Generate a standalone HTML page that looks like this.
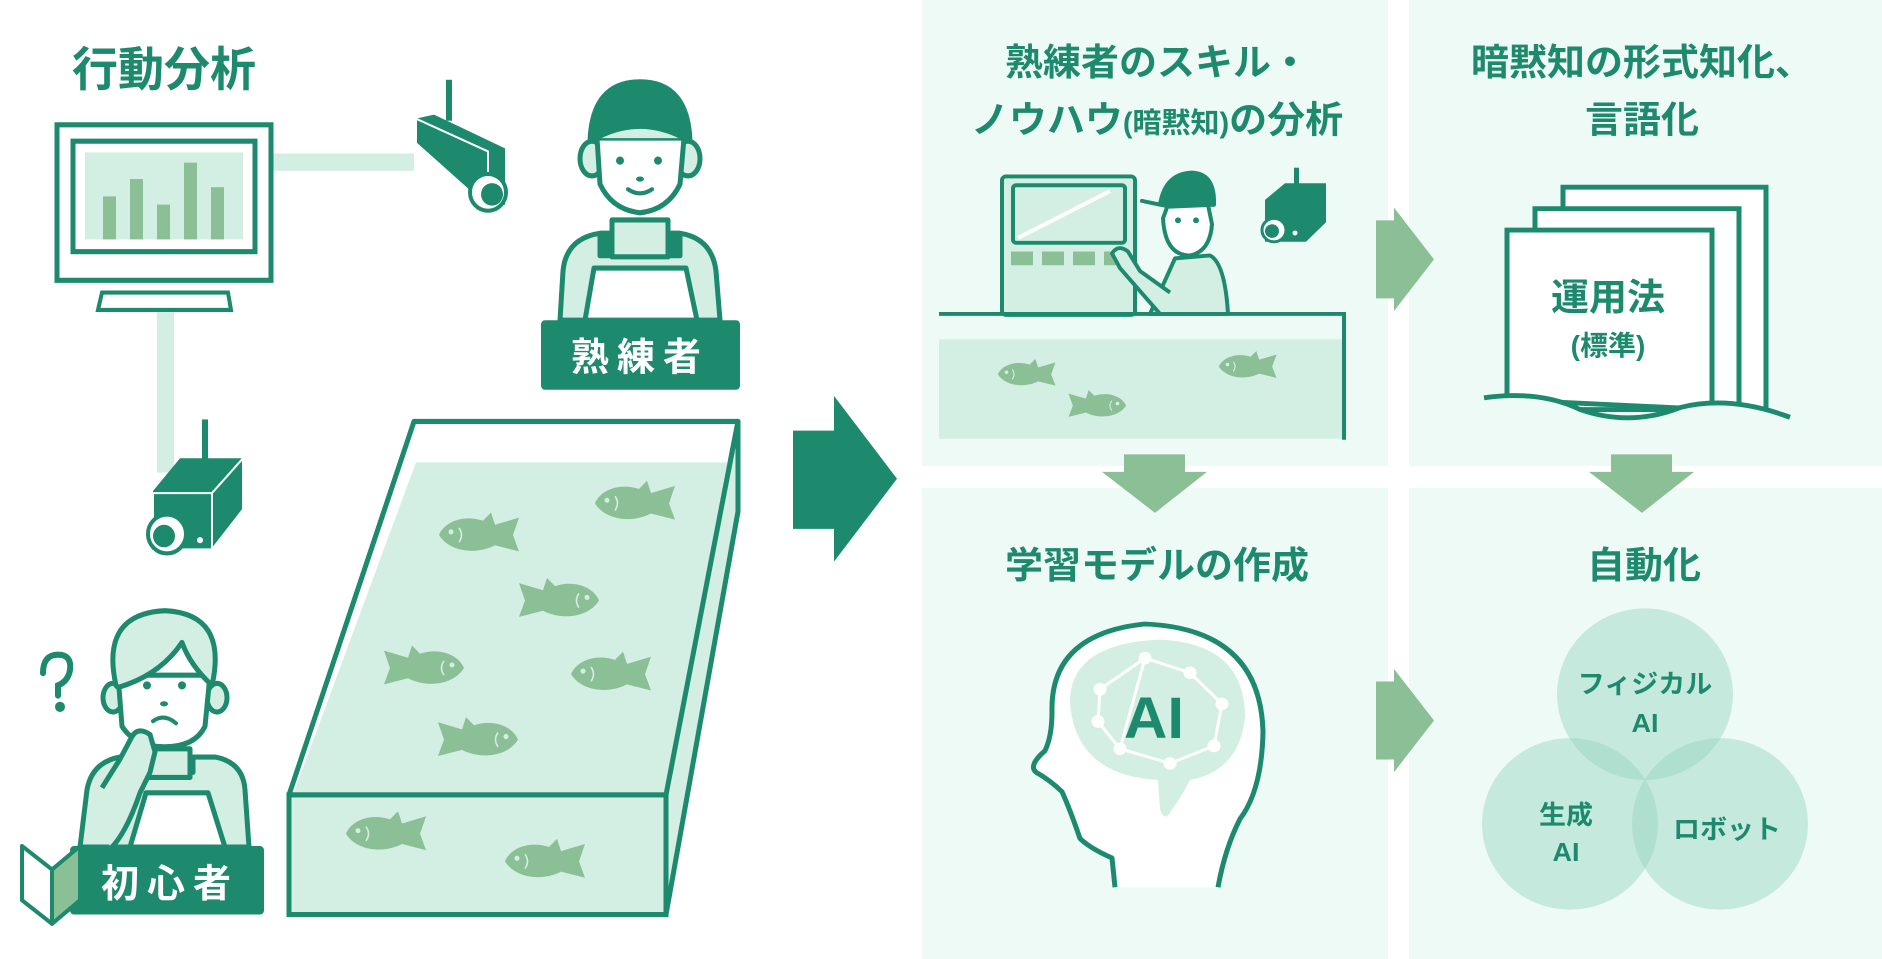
<!DOCTYPE html>
<html><head><meta charset="utf-8">
<style>
html,body{margin:0;padding:0;background:#fff;}
svg{display:block;}
text{font-family:"Liberation Sans","Noto Sans CJK JP",sans-serif;font-weight:bold;}
</style></head>
<body>
<svg width="1882" height="959" viewBox="0 0 1882 959" xmlns="http://www.w3.org/2000/svg">
<defs>
  <g id="fishL">
    <path d="M4,0 C10,-14 30,-20 48,-14 L56,-22 L60,-10 L84,-17 L78,0 L84,16 L60,10 C40,20 14,16 4,0Z" fill="#8bbf95"/>
    <circle cx="16" cy="-3" r="2.5" fill="#d3eee3"/>
    <path d="M24,-7 Q29,0 24,7" stroke="#d3eee3" stroke-width="1.6" fill="none"/>
  </g>
</defs>

<!-- right panels -->
<rect x="922" y="0" width="466" height="466" fill="#eefaf6"/>
<rect x="1409" y="0" width="473" height="466" fill="#eefaf6"/>
<rect x="922" y="488" width="466" height="471" fill="#eefaf6"/>
<rect x="1409" y="488" width="473" height="471" fill="#eefaf6"/>

<!-- ===== LEFT ===== -->
<g transform="scale(1,1.023)">
<text x="164" y="84" font-size="46" fill="#1d8a6e" text-anchor="middle">行動分析</text>

<rect x="273" y="150" width="141" height="17" fill="#d3eee3"/>
<rect x="157" y="304" width="17" height="158" fill="#d3eee3"/>

<rect x="57" y="122" width="214" height="152" fill="#fff" stroke="#1d8a6e" stroke-width="5"/>
<rect x="73" y="138" width="182" height="108" fill="#fff" stroke="#1d8a6e" stroke-width="5"/>
<rect x="85" y="149" width="158" height="85" fill="#d3eee3"/>
<g fill="#8bbf95">
<rect x="103" y="192" width="13" height="42"/>
<rect x="130" y="175" width="13" height="59"/>
<rect x="157" y="200" width="13" height="34"/>
<rect x="184" y="159" width="13" height="75"/>
<rect x="211" y="183" width="13" height="51"/>
</g>
<polygon points="102,286 228,286 231,303 98,303" fill="#fff" stroke="#1d8a6e" stroke-width="4"/>

<!-- camera top -->
<g>
<rect x="446" y="78" width="6" height="40" fill="#1d8a6e"/>
<polygon points="416,116 434,112 505,145 505,200 490,205 419,140" fill="#1d8a6e"/>
<polygon points="416,116 488,148 488,203 416,140" fill="#1d8a6e" stroke="#fff" stroke-width="2"/>
<circle cx="488" cy="188" r="18" fill="#fff" stroke="#1d8a6e" stroke-width="4"/>
<circle cx="492" cy="190" r="11" fill="#1d8a6e"/>
<circle cx="458" cy="194" r="3" fill="#fff"/>
</g>
<!-- camera bottom -->
<g>
<rect x="202" y="410" width="6" height="40" fill="#1d8a6e"/>
<polygon points="153,480 180,448 243,448 243,498 212,537 153,537" fill="#1d8a6e"/>
<polygon points="153,482 212,482 212,537 153,537" fill="#1d8a6e" stroke="#fff" stroke-width="2"/>
<polygon points="212,482 243,448 243,498 212,537" fill="#1d8a6e" stroke="#fff" stroke-width="2"/>
<circle cx="167" cy="522" r="19" fill="#fff" stroke="#1d8a6e" stroke-width="4"/>
<circle cx="164" cy="524" r="11" fill="#1d8a6e"/>
<circle cx="200" cy="528" r="3" fill="#fff"/>
</g>

<!-- expert person -->
<g stroke="#1d8a6e" stroke-width="5" stroke-linejoin="round">
<path d="M560,313 L563,265 Q566,233 600,228 L680,228 Q712,233 716,265 L720,313Z" fill="#d3eee3"/>
<path d="M600,228 L600,250 L680,250 L680,228" fill="#1d8a6e"/>
<rect x="612" y="215" width="56" height="36" fill="#d3eee3"/>
<path d="M585,313 L594,262 L686,262 L697,313Z" fill="#fff"/>
<ellipse cx="592" cy="155" rx="12" ry="17" fill="#d3eee3"/>
<ellipse cx="688" cy="155" rx="12" ry="17" fill="#d3eee3"/>
<path d="M597,135 L600,180 Q612,205 640,208 Q668,205 680,180 L684,135Z" fill="#fff"/>
<path d="M590,138 Q592,80 640,80 Q688,80 690,138 Q640,118 590,138Z" fill="#1d8a6e"/>
<path d="M596,135 Q640,112 684,135" fill="#d3eee3"/>
</g>
<g fill="#1d8a6e">
<circle cx="620" cy="157" r="4"/><circle cx="658" cy="157" r="4"/>
<ellipse cx="640" cy="175" rx="4" ry="2.5"/>
</g>
<path d="M628,185 Q640,193 652,185" stroke="#1d8a6e" stroke-width="4" fill="none" stroke-linecap="round"/>
<rect x="541" y="313" width="199" height="68" rx="4" fill="#1d8a6e"/>
<text x="640" y="362" font-size="38" fill="#fff" text-anchor="middle" letter-spacing="8">熟練者</text>

<!-- tank -->
<polygon points="414,412 738,412 666,777 289,777" fill="#fff" stroke="#1d8a6e" stroke-width="5" stroke-linejoin="round"/>
<polygon points="416,452 728,452 666,777 293,777" fill="#d3eee3"/>
<polygon points="738,412 738,500 666,894 666,777" fill="#d3eee3" stroke="#1d8a6e" stroke-width="5" stroke-linejoin="round"/>
<rect x="289" y="777" width="377" height="117" fill="#d3eee3" stroke="#1d8a6e" stroke-width="5"/>
<use href="#fishL" transform="translate(591,492)"/>
<use href="#fishL" transform="translate(435,523)"/>
<use href="#fishL" transform="translate(603,587) scale(-1,1)"/>
<use href="#fishL" transform="translate(468,653) scale(-1,1)"/>
<use href="#fishL" transform="translate(567,659)"/>
<use href="#fishL" transform="translate(522,723) scale(-1,1)"/>
<use href="#fishL" transform="translate(342,815)"/>
<use href="#fishL" transform="translate(501,842)"/>

<!-- beginner person -->
<g stroke="#1d8a6e" stroke-width="5" stroke-linejoin="round">
<path d="M80,828 L87,772 Q92,745 120,740 L215,740 Q243,745 245,772 L249,828Z" fill="#d3eee3"/>
<path d="M145,740 L145,755 L193,755 L193,740" fill="#1d8a6e"/>
<rect x="148" y="732" width="42" height="28" fill="#d3eee3"/>
<path d="M130,828 L146,775 L208,775 L225,828Z" fill="#fff"/>
<ellipse cx="113" cy="682" rx="10" ry="14" fill="#d3eee3"/>
<ellipse cx="217" cy="682" rx="10" ry="14" fill="#d3eee3"/>
<path d="M118,660 L122,710 Q135,730 165,730 Q195,730 205,710 L210,660Z" fill="#fff"/>
<path d="M116,670 Q100,600 165,597 Q228,600 212,670 Q190,650 182,628 Q160,660 118,672Z" fill="#d3eee3"/>
<path d="M102,770 L120,742 L132,720 Q138,710 150,718 L155,735 L150,755 L140,775 Q126,815 110,830" fill="#d3eee3"/>
</g>
<g fill="#1d8a6e">
<circle cx="147" cy="670" r="4"/><circle cx="182" cy="670" r="4"/>
<ellipse cx="164" cy="688" rx="4" ry="2.5"/>
</g>
<path d="M153,705 Q164,697 176,707" stroke="#1d8a6e" stroke-width="4" fill="none" stroke-linecap="round"/>
<path d="M43,658 Q43,640 58,640 Q72,640 70,655 Q68,666 58,670 L58,680" stroke="#1d8a6e" stroke-width="6" fill="none" stroke-linecap="round"/>
<circle cx="60" cy="691" r="5" fill="#1d8a6e"/>
<rect x="70" y="827" width="194" height="67" rx="4" fill="#1d8a6e"/>
<text x="170" y="877" font-size="38" fill="#fff" text-anchor="middle" letter-spacing="8">初心者</text>
<polygon points="22,827 52,850 52,903 22,880" fill="#fff" stroke="#1d8a6e" stroke-width="4" stroke-linejoin="round"/>
<polygon points="52,850 80,827 80,880 52,903" fill="#8bbf95" stroke="#1d8a6e" stroke-width="4" stroke-linejoin="round"/>

<polygon points="793,421 834,421 834,387 897,468 834,549 834,517 793,517" fill="#1d8a6e"/>
</g>

<!-- ===== RIGHT ===== -->
<g transform="scale(1,0.975)">
<text x="1157" y="77" font-size="38" fill="#1d8a6e" text-anchor="middle">熟練者のスキル・</text>
<text x="1157" y="136" font-size="38" fill="#1d8a6e" text-anchor="middle">ノウハウ<tspan font-size="29">(暗黙知)</tspan>の分析</text>

<rect x="1002" y="181" width="133" height="142" rx="4" fill="#d3eee3" stroke="#1d8a6e" stroke-width="4"/>
<rect x="1013" y="190" width="112" height="59" rx="3" fill="#d3eee3" stroke="#1d8a6e" stroke-width="4"/>
<line x1="1018" y1="244" x2="1110" y2="196" stroke="#fff" stroke-width="4"/>
<g fill="#8bbf95">
<rect x="1011" y="258" width="22" height="14"/><rect x="1042" y="258" width="22" height="14"/><rect x="1073" y="258" width="22" height="14"/><rect x="1104" y="258" width="22" height="14"/>
</g>
<g stroke="#1d8a6e" stroke-width="4" stroke-linejoin="round">
<path d="M1150,322 L1175,265 L1210,262 Q1225,270 1228,322Z" fill="#d3eee3"/>
<path d="M1163,224 Q1165,262 1190,262 Q1210,258 1212,230 L1208,210 L1168,210Z" fill="#fff"/>
<path d="M1160,210 Q1165,178 1192,177 Q1215,178 1214,210 L1170,212 L1142,206Z" fill="#1d8a6e"/>
<path d="M1160,322 L1120,275 L1112,260 Q1118,250 1128,258 L1140,278 L1170,300" fill="#d3eee3"/>
</g>
<g fill="#1d8a6e"><circle cx="1178" cy="226" r="3"/><circle cx="1196" cy="226" r="3"/></g>
<rect x="1294" y="172" width="5" height="20" fill="#1d8a6e"/>
<polygon points="1265,205 1285,188 1326,188 1326,228 1306,248 1265,248" fill="#1d8a6e"/>
<circle cx="1274" cy="236" r="12" fill="#fff" stroke="#1d8a6e" stroke-width="3"/>
<circle cx="1272" cy="237" r="7" fill="#1d8a6e"/>
<circle cx="1295" cy="239" r="2.5" fill="#fff"/>
<rect x="939" y="348" width="403" height="102" fill="#d3eee3"/>
<polyline points="939,322 1344,322 1344,451" fill="none" stroke="#1d8a6e" stroke-width="4"/>
<use href="#fishL" transform="translate(995,384) scale(0.72)"/>
<use href="#fishL" transform="translate(1129,416) scale(-0.72,0.72)"/>
<use href="#fishL" transform="translate(1216,376) scale(0.72)"/>

<text x="1642" y="77" font-size="38" fill="#1d8a6e" text-anchor="middle">暗黙知の形式知化、</text>
<text x="1642" y="136" font-size="38" fill="#1d8a6e" text-anchor="middle">言語化</text>

<g fill="#fff" stroke="#1d8a6e" stroke-width="5">
<path d="M1563,420 L1563,192 L1766,192 L1766,420Z"/>
<path d="M1535,420 L1535,214 L1739,214 L1739,420Z"/>
<path d="M1507,410 L1507,236 L1712,236 L1712,420Z"/>
</g>
<path d="M1490,408 Q1540,400 1580,420 Q1630,440 1680,420 Q1730,405 1790,428 L1790,440 L1490,440Z" fill="#eefaf6"/>
<path d="M1484,408 Q1540,400 1580,420 Q1630,438 1680,418 Q1730,405 1790,428" fill="none" stroke="#1d8a6e" stroke-width="5"/>
<text x="1608" y="318" font-size="38" fill="#1d8a6e" text-anchor="middle">運用法</text>
<text x="1608" y="364" font-size="28" fill="#1d8a6e" text-anchor="middle">(標準)</text>

<polygon points="1376,226 1394,226 1394,213 1434,266 1394,319 1394,306 1376,306" fill="#8bbf95"/>
<polygon points="1376,699 1394,699 1394,686 1434,739 1394,792 1394,779 1376,779" fill="#8bbf95"/>
<polygon points="1124,466 1185,466 1185,484 1207,484 1155,526 1102,484 1124,484" fill="#8bbf95"/>
<polygon points="1611,466 1672,466 1672,484 1694,484 1642,526 1589,484 1611,484" fill="#8bbf95"/>

<text x="1157" y="593" font-size="38" fill="#1d8a6e" text-anchor="middle">学習モデルの作成</text>
<text x="1644" y="593" font-size="38" fill="#1d8a6e" text-anchor="middle">自動化</text>

<path d="M1115,910 L1112,880 Q1090,870 1080,860 Q1070,830 1062,812 Q1050,800 1036,792 Q1028,785 1045,770 Q1052,755 1052,730 Q1050,650 1145,640 Q1260,645 1263,750 Q1262,810 1240,840 Q1225,870 1218,910" fill="#fff" stroke="#1d8a6e" stroke-width="5" stroke-linejoin="round"/>
<path d="M1070,720 Q1070,660 1160,656 Q1245,660 1245,735 Q1240,790 1190,800 Q1180,820 1172,830 Q1165,845 1160,830 L1158,800 Q1075,795 1070,720Z" fill="#d3eee3"/>
<g stroke="#fff" stroke-width="3" fill="#fff">
<polyline points="1100,707 1145,675 1190,690 1222,722 1214,765 1170,783 1120,768 1098,740 1100,707" fill="none"/>
<polyline points="1145,675 1120,768 M1145,675 1170,783 M1190,690 1170,783 M1100,707 1170,783" fill="none"/>
<circle cx="1100" cy="707" r="5"/><circle cx="1145" cy="675" r="5"/><circle cx="1190" cy="690" r="5"/><circle cx="1222" cy="722" r="5"/><circle cx="1214" cy="765" r="5"/><circle cx="1170" cy="783" r="5"/><circle cx="1120" cy="768" r="5"/><circle cx="1098" cy="740" r="5"/>
</g>
<text x="1154" y="757" font-size="60" fill="#1d8a6e" text-anchor="middle">AI</text>

<g fill="rgba(142,210,185,0.42)">
<circle cx="1645" cy="712" r="88"/>
<circle cx="1570" cy="845" r="88"/>
<circle cx="1720" cy="845" r="88"/>
</g>
<g font-size="27" fill="#1d8a6e" text-anchor="middle">
<text x="1645" y="711">フィジカル</text>
<text x="1645" y="751">AI</text>
<text x="1566" y="845">生成</text>
<text x="1566" y="883">AI</text>
<text x="1727" y="860">ロボット</text>
</g>
</g>
</svg>
</body></html>
